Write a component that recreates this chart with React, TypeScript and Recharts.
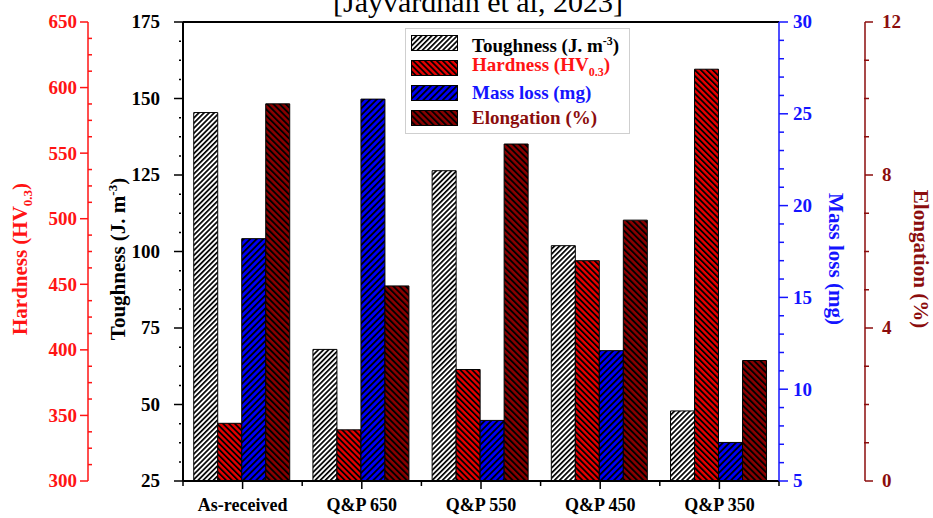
import React from "react";
import { BarChart, Bar, XAxis, YAxis, Legend, ReferenceLine } from "recharts";

const categories = ["As-received", "Q&P 650", "Q&P 550", "Q&P 450", "Q&P 350"];
const toughness = [145.4, 68, 126.4, 101.9, 47.9];
const hardness = [344, 339, 385, 468, 614];
const massLoss = [18.2, 25.8, 8.3, 12.1, 7.1];
const elongation = [9.86, 5.1, 8.81, 6.82, 3.15];

const toughnessTicks = [25, 50, 75, 100, 125, 150, 175];
const hardnessTicks = [300, 350, 400, 450, 500, 550, 600, 650];
const massTicks = [5, 10, 15, 20, 25, 30];
const elongTicks = [0, 4, 8, 12];

const data = categories.map((name, i) => ({
  name,
  toughness: toughness[i],
  hardness: hardness[i],
  massLoss: massLoss[i],
  elongation: elongation[i],
}));

// major ticks plus n subdivisions between them
const withMinor = (major: number[], n: number) => {
  const out: number[] = [];
  for (let i = 0; i < major.length - 1; i++) {
    const step = (major[i + 1] - major[i]) / n;
    for (let k = 0; k < n; k++) out.push(major[i] + k * step);
  }
  out.push(major[major.length - 1]);
  return out;
};

const W = 933;
const H = 518;
const LEFT_T = 95;
const LEFT_H = 88;
const RIGHT_M = 86;
const RIGHT_E = 68;
const PLOT_W = W - LEFT_T - LEFT_H - RIGHT_M - RIGHT_E;

const FONT = "'Liberation Serif', 'Times New Roman', serif";
const RED = "#ff1414";
const BLUE = "#1414ff";
const DARK = "#8b0d0d";

// recharts stacks same-side axes by id, the first id sits next to the plot
const ID_T = "y1tough";
const ID_H = "y2hard";
const ID_M = "y3mass";
const ID_E = "y4elong";

type TickCfg = {
  majors: number[];
  color: string;
  majorFrom: number;
  majorTo: number;
  minorFrom: number;
  minorTo: number;
  labelDx: number;
  anchor: "start" | "end";
};

const makeTick = (cfg: TickCfg) => (props: any) => {
  const { x, y, payload } = props;
  const v = payload.value;
  const isMajor = cfg.majors.some((m) => Math.abs(m - v) < 1e-6);
  return (
    <g>
      <line
        x1={x + (isMajor ? cfg.majorFrom : cfg.minorFrom)}
        x2={x + (isMajor ? cfg.majorTo : cfg.minorTo)}
        y1={y}
        y2={y}
        stroke={cfg.color}
        strokeWidth={1.5}
      />
      {isMajor && (
        <text
          x={x + cfg.labelDx}
          y={y}
          dy="0.34em"
          textAnchor={cfg.anchor}
          fill={cfg.color}
          fontFamily={FONT}
          fontWeight="bold"
          fontSize={19}
        >
          {v}
        </text>
      )}
    </g>
  );
};

const XTick = (props: any) => {
  const { x, y, payload, index } = props;
  const band = PLOT_W / categories.length;
  return (
    <g>
      <line x1={x} x2={x} y1={y} y2={y + 8} stroke="#000" strokeWidth={1.5} />
      <line x1={x - band / 2} x2={x - band / 2} y1={y} y2={y + 5} stroke="#000" strokeWidth={1.5} />
      {index === categories.length - 1 && (
        <line x1={x + band / 2} x2={x + band / 2} y1={y} y2={y + 5} stroke="#000" strokeWidth={1.5} />
      )}
      <text
        x={x}
        y={y + 30}
        textAnchor="middle"
        fill="#000"
        fontFamily={FONT}
        fontWeight="bold"
        fontSize={18}
      >
        {payload.value}
      </text>
    </g>
  );
};

// baseX: page x of the text baseline, titleRot: rotation in degrees
const AxisTitle = (props: any) => {
  const { baseX, titleRot, titleColor, children } = props;
  const x = baseX;
  const y = 259;
  return (
    <text
      x={x}
      y={y}
      textAnchor="middle"
      fill={titleColor}
      fontFamily={FONT}
      fontWeight="bold"
      fontSize={21}
      transform={`rotate(${titleRot}, ${x}, ${y})`}
    >
      {children}
    </text>
  );
};

const legendItems = [
  { key: "toughness", fill: "url(#patT)", color: "#000", text: "Toughness (J. m", sup: "-3", sub: "", tail: ")" },
  { key: "hardness", fill: "url(#patH)", color: RED, text: "Hardness (HV", sup: "", sub: "0.3", tail: ")" },
  { key: "massLoss", fill: "url(#patM)", color: BLUE, text: "Mass loss (mg)", sup: "", sub: "", tail: "" },
  { key: "elongation", fill: "url(#patE)", color: DARK, text: "Elongation (%)", sup: "", sub: "", tail: "" },
];

const LegendBox = () => (
  <div
    style={{
      border: "1px solid #cfcfcf",
      background: "#fff",
      padding: "2px 6px 3px 5px",
      fontFamily: FONT,
      fontWeight: "bold",
      fontSize: 19,
      width: 212,
    }}
  >
    {legendItems.map((it) => (
      <div key={it.key} style={{ display: "flex", alignItems: "center", height: 24.8 }}>
        <svg width={47} height={16} style={{ marginRight: 14 }}>
          <rect x={0.5} y={0.5} width={46} height={15} fill={it.fill} stroke="#000" strokeWidth={1} />
        </svg>
        <span style={{ color: it.color, whiteSpace: "nowrap", lineHeight: "20px" }}>
          {it.text}
          {it.sup && <sup style={{ fontSize: 12 }}>{it.sup}</sup>}
          {it.sub && <sub style={{ fontSize: 12 }}>{it.sub}</sub>}
          {it.tail}
        </span>
      </div>
    ))}
  </div>
);

export default function App() {
  return (
    <div style={{ position: "absolute", left: 0, top: 0, width: W, height: H, overflow: "hidden", background: "#fff" }}>
      <div
        style={{
          position: "absolute",
          left: 0,
          width: 956,
          top: -13,
          textAlign: "center",
          fontFamily: FONT,
          fontSize: 30,
          lineHeight: 1,
          color: "#000",
        }}
      >
        [Jayvardhan et al, 2023]
      </div>
      <BarChart
        width={W}
        height={H}
        data={data}
        margin={{ top: 22, right: 0, bottom: 0, left: 0 }}
        barCategoryGap="9%"
        barGap={0}
      >
        <defs>
          <pattern id="patT" width={3.6} height={3.6} patternUnits="userSpaceOnUse" patternTransform="rotate(45)">
            <rect width={3.6} height={3.6} fill="#fff" />
            <rect width={1.7} height={3.6} fill="#000" />
          </pattern>
          <pattern id="patH" width={4.2} height={4.2} patternUnits="userSpaceOnUse" patternTransform="rotate(-45)">
            <rect width={4.2} height={4.2} fill="#e60000" />
            <rect width={1.8} height={4.2} fill="#000" />
          </pattern>
          <pattern id="patM" width={4.6} height={4.6} patternUnits="userSpaceOnUse" patternTransform="rotate(45)">
            <rect width={4.6} height={4.6} fill="#0000f5" />
            <rect width={1.8} height={4.6} fill="#000" />
          </pattern>
          <pattern id="patE" width={4.4} height={4.4} patternUnits="userSpaceOnUse" patternTransform="rotate(-45)">
            <rect width={4.4} height={4.4} fill="#8b0000" />
            <rect width={1.9} height={4.4} fill="#000" />
          </pattern>
        </defs>
        <XAxis
          dataKey="name"
          height={37}
          interval={0}
          tickLine={false}
          tickSize={0}
          tickMargin={0}
          axisLine={{ stroke: "#000", strokeWidth: 2 }}
          tick={XTick}
        />
        <YAxis
          yAxisId={ID_T}
          orientation="left"
          width={LEFT_T}
          domain={[25, 175]}
          ticks={withMinor(toughnessTicks, 4)}
          interval={0}
          allowDataOverflow
          tickLine={false}
          tickSize={0}
          tickMargin={0}
          axisLine={{ stroke: "#000", strokeWidth: 2 }}
          tick={makeTick({
            majors: toughnessTicks,
            color: "#000",
            majorFrom: -9,
            majorTo: 0,
            minorFrom: -4,
            minorTo: -2,
            labelDx: -23,
            anchor: "end",
          })}
          label={
            <AxisTitle baseX={LEFT_H + 37} titleRot={-90} titleColor="#000">
              Toughness (J. m
              <tspan dy={-8} fontSize={13}>-3</tspan>
              <tspan dy={8}>)</tspan>
            </AxisTitle>
          }
        />
        <YAxis
          yAxisId={ID_H}
          orientation="left"
          width={LEFT_H}
          domain={[300, 650]}
          ticks={withMinor(hardnessTicks, 4)}
          interval={0}
          allowDataOverflow
          tickLine={false}
          tickSize={0}
          tickMargin={0}
          axisLine={{ stroke: RED, strokeWidth: 1.5 }}
          tick={makeTick({
            majors: hardnessTicks,
            color: RED,
            majorFrom: -8,
            majorTo: 0,
            minorFrom: 0,
            minorTo: 4,
            labelDx: -11,
            anchor: "end",
          })}
          label={
            <AxisTitle baseX={27} titleRot={-90} titleColor={RED}>
              Hardness (HV
              <tspan dy={5} fontSize={13}>0.3</tspan>
              <tspan dy={-5}>)</tspan>
            </AxisTitle>
          }
        />
        <YAxis
          yAxisId={ID_M}
          orientation="right"
          width={RIGHT_M}
          domain={[5, 30]}
          ticks={withMinor(massTicks, 5)}
          interval={0}
          allowDataOverflow
          tickLine={false}
          tickSize={0}
          tickMargin={0}
          axisLine={{ stroke: BLUE, strokeWidth: 1.5 }}
          tick={makeTick({
            majors: massTicks,
            color: BLUE,
            majorFrom: 0,
            majorTo: 9,
            minorFrom: 0,
            minorTo: 5,
            labelDx: 14,
            anchor: "start",
          })}
          label={
            <AxisTitle baseX={W - RIGHT_E - RIGHT_M + 50} titleRot={90} titleColor={BLUE}>
              Mass loss (mg)
            </AxisTitle>
          }
        />
        <YAxis
          yAxisId={ID_E}
          orientation="right"
          width={RIGHT_E}
          domain={[0, 12]}
          ticks={withMinor(elongTicks, 4)}
          interval={0}
          allowDataOverflow
          tickLine={false}
          tickSize={0}
          tickMargin={0}
          axisLine={{ stroke: DARK, strokeWidth: 1.5 }}
          tick={makeTick({
            majors: elongTicks,
            color: DARK,
            majorFrom: 0,
            majorTo: 8,
            minorFrom: -1,
            minorTo: 4,
            labelDx: 17,
            anchor: "start",
          })}
          label={
            <AxisTitle baseX={W - RIGHT_E + 49} titleRot={90} titleColor={DARK}>
              Elongation (%)
            </AxisTitle>
          }
        />
        <ReferenceLine yAxisId={ID_T} y={175} stroke="#000" strokeWidth={2} />
        <Bar dataKey="toughness" yAxisId={ID_T} fill="url(#patT)" stroke="#000" strokeWidth={1} isAnimationActive={false} />
        <Bar dataKey="hardness" yAxisId={ID_H} fill="url(#patH)" stroke="#000" strokeWidth={1} isAnimationActive={false} />
        <Bar dataKey="massLoss" yAxisId={ID_M} fill="url(#patM)" stroke="#000" strokeWidth={1} isAnimationActive={false} />
        <Bar dataKey="elongation" yAxisId={ID_E} fill="url(#patE)" stroke="#000" strokeWidth={1} isAnimationActive={false} />
        <Legend
          layout="vertical"
          align="center"
          verticalAlign="middle"
          wrapperStyle={{ left: 405, top: 28, width: "auto" }}
          content={() => <LegendBox />}
        />
      </BarChart>
    </div>
  );
}
